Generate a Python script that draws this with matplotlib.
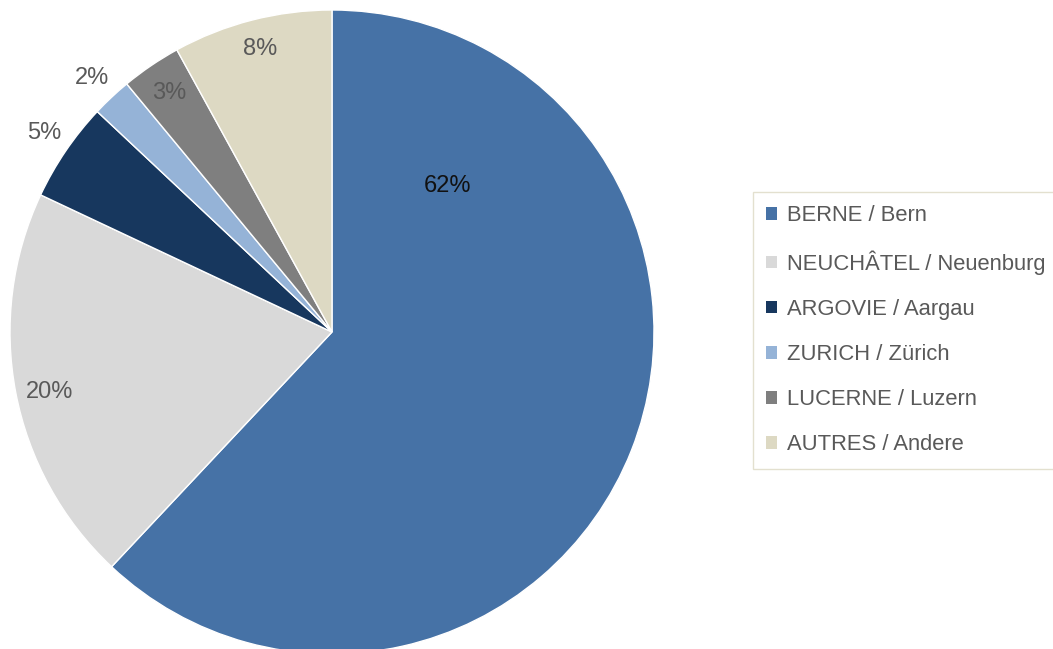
import matplotlib
matplotlib.use("Agg")
import matplotlib.pyplot as plt
from matplotlib.patches import Patch

categories = ["BERNE / Bern", "NEUCHÂTEL / Neuenburg", "ARGOVIE / Aargau",
              "ZURICH / Zürich", "LUCERNE / Luzern", "AUTRES / Andere"]
values = [62, 20, 5, 2, 3, 8]
labels = ["62%", "20%", "5%", "2%", "3%", "8%"]

colors = ["#4672A6", "#D9D9D9", "#17375E", "#95B3D7", "#7F7F7F", "#DDD9C3"]
label_colors = ["#111111", "#595959", "#595959", "#595959", "#595959", "#595959"]
label_pos = [(0.358, 0.452), (-0.878, -0.187), (-0.894, 0.617),
             (-0.745, 0.788), (-0.505, 0.742), (-0.224, 0.879)]

plt.rcParams['font.family'] = ['Liberation Sans', 'DejaVu Sans']

W, H = 1053, 649
fig = plt.figure(figsize=(W / 100, H / 100), dpi=100)
cx, cy, r = 332, H - 332, 322
ax = fig.add_axes([(cx - r) / W, (cy - r) / H, 2 * r / W, 2 * r / H])
wedges, _ = ax.pie(values, colors=colors, startangle=90, counterclock=False,
                   radius=1, wedgeprops=dict(edgecolor="white", linewidth=1))
ax.set_xlim(-1, 1)
ax.set_ylim(-1, 1)
ax.set_aspect("equal")
ax.axis("off")

for lab, pos, c in zip(labels, label_pos, label_colors):
    ax.text(pos[0], pos[1], lab, ha="center", va="center", fontsize=17, color=c)

handles = [Patch(facecolor=c, edgecolor="none") for c in colors]
leg = fig.legend(handles, categories, loc="upper left",
                 bbox_to_anchor=(753 / W, 1 - 192 / H),
                 fontsize=15.8, frameon=True, fancybox=False,
                 edgecolor="#DDD9C3", labelspacing=1.1,
                 handlelength=0.5, handleheight=0.5, handletextpad=0.45,
                 borderpad=0.6, borderaxespad=0)
leg.get_frame().set_linewidth(1)
for t in leg.get_texts():
    t.set_color("#595959")

fig.savefig("out.png", dpi=100)
